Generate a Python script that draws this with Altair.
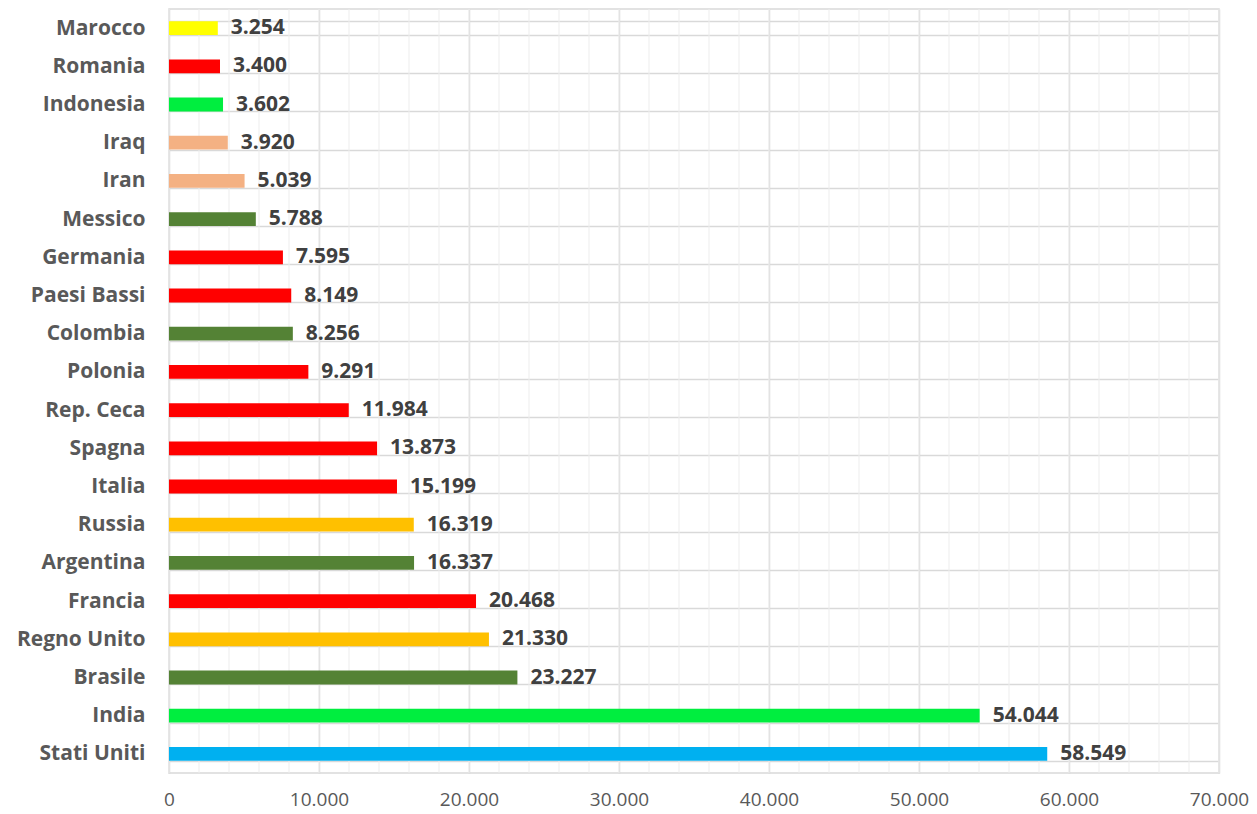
import altair as alt
import pandas as pd

countries = ["Marocco", "Romania", "Indonesia", "Iraq", "Iran", "Messico", "Germania",
             "Paesi Bassi", "Colombia", "Polonia", "Rep. Ceca", "Spagna", "Italia", "Russia",
             "Argentina", "Francia", "Regno Unito", "Brasile", "India", "Stati Uniti"]
values = [3254, 3400, 3602, 3920, 5039, 5788, 7595, 8149, 8256, 9291, 11984, 13873,
          15199, 16319, 16337, 20468, 21330, 23227, 54044, 58549]
colors = ["#FFFF00", "#FF0000", "#00EE3F", "#F4B183", "#F4B183", "#548235", "#FF0000",
          "#FF0000", "#548235", "#FF0000", "#FF0000", "#FF0000", "#FF0000", "#FFC000",
          "#548235", "#FF0000", "#FFC000", "#548235", "#00EE3F", "#00B0F0"]
minor_ticks = list(range(0, 70001, 2000))
major_ticks = list(range(0, 70001, 10000))

df = pd.DataFrame({"country": countries, "value": values, "color": colors})
grid_df = pd.DataFrame({"g": minor_ticks})

FONT = "Open Sans"
xscale = alt.Scale(domain=[0, 70000], nice=False)
xaxis = alt.Axis(values=major_ticks, grid=True, gridColor="#D9D9D9", gridWidth=1.5,
                 ticks=False, domain=False, labelFont=FONT, labelFontSize=19,
                 labelColor="#595959", labelPadding=17, format=",d",
                 labelFlush=False, labelOverlap=False,
                 labelExpr="replace(datum.label, ',', '.')")

minor = alt.Chart(grid_df).mark_rule(color="#EDEDED", strokeWidth=1).encode(
    x=alt.X("g:Q", scale=xscale, axis=xaxis, title=None)
)

base = alt.Chart(df).encode(
    y=alt.Y("country:N", sort=countries, title=None,
            scale=alt.Scale(paddingInner=0.64, paddingOuter=0.32),
            axis=alt.Axis(grid=True, tickBand="extent", gridColor="#D9D9D9", gridWidth=1.5,
                          ticks=False, domain=False, labelFont=FONT, labelFontSize=21,
                          labelFontWeight="bold", labelColor="#595959", labelPadding=24)),
)

bars = base.mark_bar().encode(
    x=alt.X("value:Q", scale=xscale, title=None, axis=xaxis),
    color=alt.Color("color:N", scale=None),
)

labels = base.mark_text(align="left", baseline="middle", dx=13, font=FONT, fontSize=21,
                        fontWeight="bold", color="#404040").transform_calculate(
    lab="replace(format(datum.value, ',d'), ',', '.')"
).encode(
    x=alt.X("value:Q", scale=xscale, axis=xaxis, title=None),
    text="lab:N",
)

chart = alt.layer(minor, bars, labels).properties(
    width=1050, height=764,
    autosize=alt.AutoSizeParams(type="none"),
    padding={"left": 161, "top": 1, "right": 30, "bottom": 38},
).configure_view(stroke="#D9D9D9", strokeWidth=1.5)

chart.save("out.html", embed_options={"renderer": "svg", "actions": False})
